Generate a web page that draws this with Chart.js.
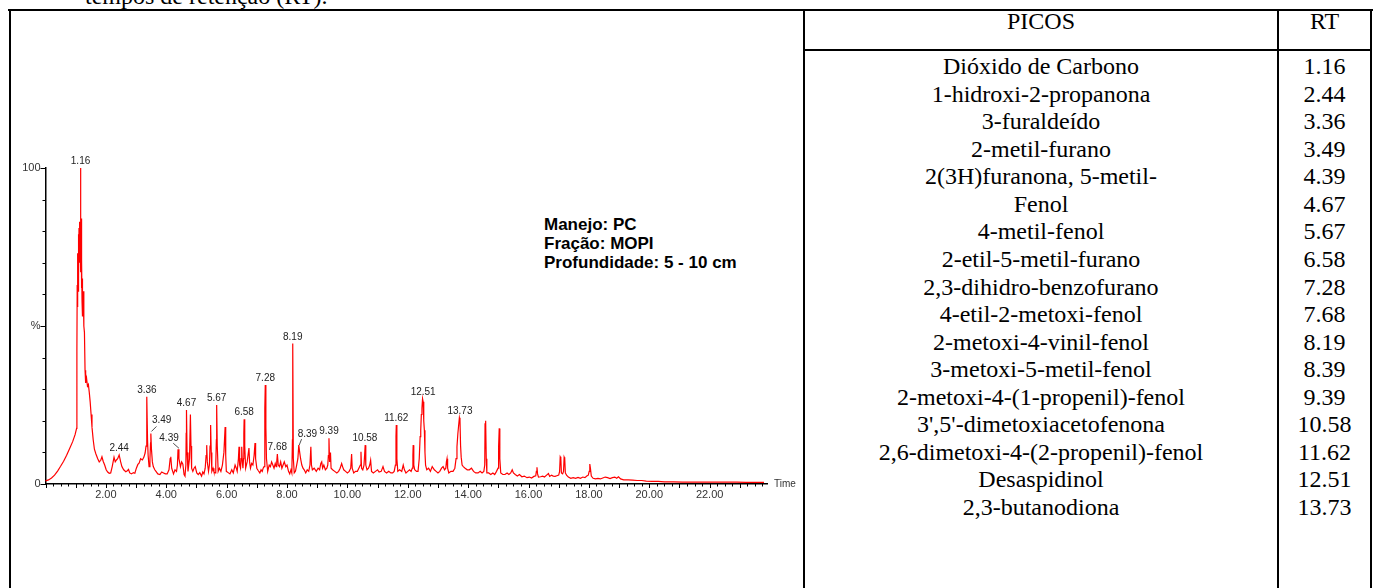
<!DOCTYPE html>
<html>
<head>
<meta charset="utf-8">
<script src="https://cdn.jsdelivr.net/npm/chart.js@4"></script>
<style>
  html, body { margin: 0; padding: 0; background: #fff; width: 1376px; height: 588px; overflow: hidden; }
  body { position: relative; font-family: "Times New Roman", "Liberation Serif", serif; color: #000; }
  .ln { position: absolute; background: #000; }
  .caption { position: absolute; left: 85px; top: -16px; font-size: 24px; line-height: 24px; white-space: nowrap; }
  .col { position: absolute; text-align: center; font-size: 24px; line-height: 27.56px; white-space: nowrap; }
  .note { position: absolute; left: 544px; top: 215px; font-family: Arial, "Liberation Sans", sans-serif; font-weight: bold; font-size: 17px; line-height: 19px; white-space: nowrap; }
  #wrap { position: absolute; left: 10px; top: 140px; width: 790px; height: 380px; }
</style>
</head>
<body>
<div class="caption">tempos de retenção (RT).</div>

<div class="ln" style="left:8px;top:9px;width:1365px;height:2px"></div>
<div class="ln" style="left:8.5px;top:9px;width:2.5px;height:590px"></div>
<div class="ln" style="left:802.5px;top:9px;width:2.5px;height:590px"></div>
<div class="ln" style="left:1277px;top:9px;width:2px;height:590px"></div>
<div class="ln" style="left:1370px;top:9px;width:2px;height:590px"></div>
<div class="ln" style="left:803px;top:49px;width:569px;height:2px"></div>

<div class="col" id="hPicos" style="left:805px;width:472px;top:8px"></div>
<div class="col" id="hRt" style="left:1279px;width:91px;top:8px"></div>
<div class="col" id="picos" style="left:805px;width:472px;top:53px"></div>
<div class="col" id="rts" style="left:1279px;width:91px;top:53px"></div>

<div class="note" id="note"></div>

<div id="wrap"><canvas id="chromatogram" width="790" height="380"></canvas></div>

<script>
// table
const headers = ["PICOS", "RT"]
const compounds = [
    "Dióxido de Carbono",
    "1-hidroxi-2-propanona",
    "3-furaldeído",
    "2-metil-furano",
    "2(3H)furanona, 5-metil-",
    "Fenol",
    "4-metil-fenol",
    "2-etil-5-metil-furano",
    "2,3-dihidro-benzofurano",
    "4-etil-2-metoxi-fenol",
    "2-metoxi-4-vinil-fenol",
    "3-metoxi-5-metil-fenol",
    "2-metoxi-4-(1-propenil)-fenol",
    "3',5'-dimetoxiacetofenona",
    "2,6-dimetoxi-4-(2-propenil)-fenol",
    "Desaspidinol",
    "2,3-butanodiona"
]
const rtValues = ["1.16", "2.44", "3.36", "3.49", "4.39", "4.67", "5.67", "6.58", "7.28",
    "7.68", "8.19", "8.39", "9.39", "10.58", "11.62", "12.51", "13.73"]

const noteLines = ["Manejo: PC", "Fração: MOPI", "Profundidade: 5 - 10 cm"]

// axis labels
const xTickValues = [2, 4, 6, 8, 10, 12, 14, 16, 18, 20, 22]
const xTickLabels = ["2.00", "4.00", "6.00", "8.00", "10.00", "12.00", "14.00", "16.00", "18.00", "20.00", "22.00"]
const yTickValues = [0, 50, 100]
const yTickLabels = ["0", "%", "100"]
const xTitle = "Time"

// chromatogram: [time (min), relative abundance %]
const chromatogram = [
    [0.00,1.0],[0.10,1.3],[0.20,1.9],[0.30,2.8],[0.40,4.1],[0.50,5.6],[0.60,7.2],[0.70,9.1],[0.80,11.2],[0.90,13.4],[0.98,15.6],[1.03,17.6],
    [1.04,42],[1.05,63],[1.06,56],[1.07,73],[1.08,61],[1.09,79],[1.10,66],[1.11,81],[1.12,70],[1.13,83],[1.14,72],[1.15,78],[1.16,100],[1.17,67],
    [1.18,84],[1.19,62],[1.20,71],[1.21,58],[1.22,65],[1.23,53],[1.25,61],[1.27,50],[1.29,48],[1.31,36],[1.33,32],[1.36,33.5],[1.39,31],[1.42,31.5],
    [1.45,29],[1.48,26],[1.51,22],[1.54,18],[1.58,14],[1.62,11],[1.67,9.5],[1.73,8],[1.78,7],[1.83,7.5],[1.87,8.6],[1.91,7.2],[1.96,6],[2.01,4.5],
    [2.06,3.8],[2.11,3.4],[2.16,3.5],[2.21,5.5],[2.27,8.5],[2.31,7],[2.35,7.6],[2.39,8],[2.44,9.2],[2.49,7],[2.53,5.5],[2.59,4.5],[2.66,3.9],[2.71,4.2],
    [2.75,4.6],[2.79,3.5],[2.85,3.2],[2.91,3.6],[2.96,3.4],[3.01,5],[3.06,6.2],[3.10,6.6],[3.15,8],[3.21,7.6],[3.26,8.5],[3.30,9.8],[3.33,12],[3.35,20],
    [3.36,27.6],[3.38,14],[3.40,9],[3.43,5.5],[3.46,8],[3.48,13],[3.49,16],[3.51,11],[3.54,7],[3.57,5.5],[3.62,4.5],[3.66,4],[3.72,3.2],[3.79,3],
    [3.85,3.8],[3.91,3.5],[3.97,3.2],[4.03,3.2],[4.09,4.5],[4.13,8],[4.15,8.6],[4.18,5],[4.24,3.2],[4.29,4.5],[4.34,4],[4.37,6],[4.39,11],[4.42,8],
    [4.47,5.5],[4.51,7],[4.55,6.3],[4.59,3],[4.62,2.5],[4.65,6],[4.66,16],[4.67,23.4],[4.69,10],[4.72,4],[4.77,8],[4.80,22],[4.82,12],[4.84,5],
    [4.88,4],[4.92,5],[4.96,5.5],[5.01,3.5],[5.06,3],[5.11,3.6],[5.17,2.5],[5.21,3.8],[5.25,3.2],[5.29,5],[5.32,9],[5.34,12.3],[5.36,7],[5.40,4],
    [5.43,6],[5.45,12],[5.47,18.7],[5.49,10],[5.51,4],[5.55,5],[5.58,3.8],[5.62,3.5],[5.64,6],[5.66,14],[5.67,25],[5.69,12],[5.72,4],[5.76,5],
    [5.81,4],[5.86,6],[5.91,10],[5.95,18],[5.97,9],[5.99,4],[6.05,3.6],[6.11,3.2],[6.17,4.5],[6.22,3.5],[6.28,6],[6.32,5],[6.35,4],[6.39,8],
    [6.41,11.8],[6.43,6],[6.46,5],[6.48,8],[6.50,11.8],[6.52,7],[6.54,5],[6.56,8],[6.57,16],[6.58,20.5],[6.60,12],[6.63,5],[6.68,7],[6.74,11.4],
    [6.76,7],[6.79,5],[6.83,6.5],[6.87,6],[6.91,9],[6.94,13],[6.96,8],[7.00,5],[7.05,4.2],[7.10,3.5],[7.14,4.5],[7.18,4],[7.21,5],[7.24,5.5],
    [7.26,9],[7.27,24],[7.28,31.3],[7.30,18],[7.32,8],[7.36,4],[7.41,6],[7.45,5.5],[7.49,7],[7.53,6],[7.57,5],[7.61,6.5],[7.64,5.5],[7.66,7],
    [7.68,9.5],[7.71,6],[7.75,5.5],[7.79,7],[7.83,5],[7.87,6],[7.91,7],[7.96,5.5],[8.00,6],[8.05,4],[8.09,3.2],[8.13,4.5],[8.16,3.5],[8.18,14],
    [8.19,44.5],[8.21,8],[8.24,3.5],[8.28,4],[8.32,6],[8.36,8],[8.39,12.3],[8.42,10],[8.45,8],[8.49,6],[8.53,5],[8.57,4.5],[8.62,3.5],[8.67,4.5],
    [8.72,4],[8.76,6],[8.79,11.8],[8.81,6],[8.84,4.5],[8.90,5],[8.97,4],[9.03,5],[9.08,4.5],[9.12,6.5],[9.15,7],[9.18,5],[9.22,6],[9.27,4.5],
    [9.32,5],[9.35,6],[9.37,9],[9.39,14.5],[9.41,7],[9.44,10],[9.46,5],[9.51,4.5],[9.58,4],[9.65,3.5],[9.71,4],[9.76,5],[9.81,6.5],[9.84,5.5],
    [9.88,4.5],[9.94,4],[10.00,3.5],[10.06,4],[10.11,5],[10.14,9.5],[10.16,5],[10.21,3.5],[10.27,4],[10.33,4],[10.38,5],[10.43,6],[10.45,10.2],
    [10.47,5],[10.51,4.5],[10.55,6],[10.57,9],[10.59,12.3],[10.61,6],[10.65,4.5],[10.70,5],[10.74,6],[10.77,7.5],[10.80,4],[10.86,3.5],[10.93,4],
    [11.00,4.5],[11.05,3.8],[11.12,4],[11.18,5.5],[11.23,4],[11.30,3.5],[11.37,4],[11.44,3.5],[11.50,3.5],[11.55,4],[11.59,6],[11.61,15],[11.62,18.7],
    [11.64,8],[11.67,4],[11.73,4.5],[11.80,4],[11.85,6],[11.89,4.5],[11.94,3.5],[12.00,4],[12.06,4.5],[12.11,4],[12.15,5],[12.17,9],[12.18,12.3],
    [12.20,6],[12.23,4.5],[12.29,4],[12.34,4],[12.38,8],[12.41,15],[12.43,17],[12.45,22],[12.47,24],[12.49,27],[12.51,26],[12.53,20],[12.55,17],
    [12.57,10],[12.59,6],[12.63,4.5],[12.69,5],[12.75,4],[12.81,5.5],[12.88,4.5],[12.94,4],[13.00,3.5],[13.06,4],[13.12,5],[13.17,5.5],[13.22,4.5],
    [13.26,5],[13.28,7],[13.30,8],[13.32,5],[13.36,3.5],[13.43,4],[13.50,4],[13.56,5],[13.60,8],[13.63,11.8],[13.66,16],[13.69,19],[13.71,21],
    [13.73,20],[13.75,12],[13.77,8.5],[13.80,6],[13.84,5.5],[13.90,5],[13.97,4.5],[14.04,4.5],[14.11,5],[14.18,4],[14.25,3.5],[14.33,3.5],[14.40,4],
    [14.46,3.5],[14.52,4],[14.55,6],[14.56,19],[14.58,20],[14.60,8],[14.62,3.5],[14.68,3.5],[14.75,3],[14.82,3.5],[14.88,3],[14.94,4],[14.99,5],
    [15.01,12],[15.03,17.6],[15.05,8],[15.08,3.5],[15.15,3],[15.22,3],[15.29,3.5],[15.35,3],[15.41,3.5],[15.46,4.5],[15.50,3.5],[15.56,3],[15.63,2.5],
    [15.70,3],[15.78,2.3],[15.86,2.5],[15.95,2],[16.03,2.2],[16.10,1.9],[16.18,2.4],[16.24,2.6],[16.26,4],[16.28,5.3],[16.30,3.2],[16.33,2.2],
    [16.40,2.3],[16.47,2.5],[16.53,2.2],[16.60,2.8],[16.66,3.3],[16.70,2.4],[16.76,2.8],[16.82,2.5],[16.88,2.4],[16.94,2.6],[17.00,2.8],[17.03,4],
    [17.05,8.6],[17.07,8.2],[17.09,3.5],[17.13,3.2],[17.16,4],[17.18,8.5],[17.20,8],[17.22,3.5],[17.26,2.8],[17.32,2.2],[17.40,1.8],[17.48,2],
    [17.56,1.8],[17.64,2.1],[17.72,1.8],[17.80,2.2],[17.87,2],[17.93,2.5],[17.98,2.8],[18.01,4],[18.03,6.3],[18.05,5],[18.08,2.5],[18.14,1.8],
    [18.22,1.6],[18.30,1.8],[18.38,1.6],[18.46,1.9],[18.54,2.2],[18.62,2],[18.70,1.7],[18.78,2],[18.86,2.2],[18.92,1.8],[18.98,2.3],[19.05,1.6],
    [19.15,1.3],[19.30,1.3],[19.45,1.2],[19.60,1.1],[19.75,1.1],[19.90,0.9],[20.10,0.8],[20.30,0.8],[20.50,0.7],[20.80,0.7],[21.10,0.6],[21.40,0.6],
    [21.70,0.6],[22.00,0.6],[22.30,0.6],[22.60,0.6],[22.90,0.6],[23.20,0.5],[23.50,0.5],[23.80,0.5]
]

// fill the html table
document.getElementById("hPicos").textContent = headers[0]
document.getElementById("hRt").textContent = headers[1]
document.getElementById("picos").innerHTML = compounds.join("<br>")
document.getElementById("rts").innerHTML = rtValues.join("<br>")
document.getElementById("note").innerHTML = noteLines.join("<br>")

const axisFont = 'Arial, "Liberation Sans", sans-serif'

// label tweaks for the peaks whose number is pushed aside with a small leader line
const labelShift = {
    "3.49": { dx: 10.8, dy: -12.7, lead: [0.6, -2, 5.6, -7] },
    "4.39": { dx: -9, dy: -11, lead: [0.9, -1, -4.8, -6] },
    "8.39": { dx: 8.6, dy: -11, lead: [0.4, 0, 2.8, -6] }
}

function peakTop(t) {
    let best = 0
    chromatogram.forEach(p => {
        if (Math.abs(p[0] - t) <= 0.025 && p[1] > best) best = p[1]
    })
    return best
}

const axisTicks = {
    id: "axisTicks",
    afterDraw(chart) {
        const { ctx, chartArea: a } = chart
        const x = chart.scales.x, y = chart.scales.y
        ctx.save()
        ctx.strokeStyle = "#000"
        ctx.lineWidth = 1
        ctx.beginPath()
        for (let v = 0; v <= 100; v += 10) {
            const py = Math.round(y.getPixelForValue(v)) + 0.5
            const len = v % 50 === 0 ? 5 : 3
            ctx.moveTo(a.left - len, py)
            ctx.lineTo(a.left, py)
        }
        for (let i = 0; i * 0.25 <= x.max; i++) {
            const px = Math.round(x.getPixelForValue(i * 0.25)) + 0.5
            const len = i % 4 === 0 ? 4 : 2.5
            ctx.moveTo(px, a.bottom)
            ctx.lineTo(px, a.bottom + len)
        }
        ctx.stroke()

        ctx.fillStyle = "#333"
        ctx.font = "10px " + axisFont
        ctx.textAlign = "left"
        ctx.textBaseline = "middle"
        ctx.fillText(xTitle, a.right + 7, a.bottom)
        ctx.restore()
    }
}

const peakLabels = {
    id: "peakLabels",
    afterDatasetsDraw(chart) {
        const { ctx } = chart
        const x = chart.scales.x, y = chart.scales.y
        ctx.save()
        ctx.font = "10px " + axisFont
        ctx.fillStyle = "#222"
        ctx.strokeStyle = "#222"
        ctx.lineWidth = 0.8
        ctx.textAlign = "center"
        ctx.textBaseline = "middle"
        rtValues.forEach(rt => {
            const t = parseFloat(rt)
            const px = x.getPixelForValue(t)
            const py = y.getPixelForValue(peakTop(t))
            const s = labelShift[rt]
            if (s) {
                ctx.beginPath()
                ctx.moveTo(px + s.lead[0], py + s.lead[1])
                ctx.lineTo(px + s.lead[2], py + s.lead[3])
                ctx.stroke()
                ctx.fillText(rt, px + s.dx, py + s.dy)
            } else {
                ctx.fillText(rt, px, py - 6.5)
            }
        })
        ctx.restore()
    }
}

new Chart(document.getElementById("chromatogram"), {
    type: "line",
    data: {
        datasets: [{
            data: chromatogram.map(p => ({ x: p[0], y: p[1] })),
            borderColor: "#ff0000",
            borderWidth: 1.2,
            pointRadius: 0,
            tension: 0,
            fill: false,
            clip: false
        }]
    },
    options: {
        responsive: false,
        animation: false,
        events: [],
        layout: { padding: { top: 28, right: 33, left: 0, bottom: 0 } },
        plugins: { legend: { display: false }, tooltip: { enabled: false } },
        scales: {
            x: {
                type: "linear",
                min: 0,
                max: 23.9,
                afterFit(s) { s.height = 36 },
                afterBuildTicks(s) { s.ticks = xTickValues.map(v => ({ value: v })) },
                grid: { display: false, drawTicks: false },
                border: { display: true, color: "#000", width: 1.5 },
                ticks: {
                    autoSkip: false,
                    maxRotation: 0,
                    padding: 4,
                    color: "#333",
                    font: { family: axisFont, size: 11 },
                    callback: v => xTickLabels[xTickValues.indexOf(v)]
                }
            },
            y: {
                min: 0,
                max: 100,
                afterFit(s) { s.width = 35.5 },
                afterBuildTicks(s) { s.ticks = yTickValues.map(v => ({ value: v })) },
                grid: { display: false, drawTicks: false },
                border: { display: true, color: "#000", width: 1.5 },
                ticks: {
                    padding: 5,
                    color: "#333",
                    font: { family: axisFont, size: 11 },
                    callback: v => yTickLabels[yTickValues.indexOf(v)]
                }
            }
        }
    },
    plugins: [axisTicks, peakLabels]
});
</script>
</body>
</html>
